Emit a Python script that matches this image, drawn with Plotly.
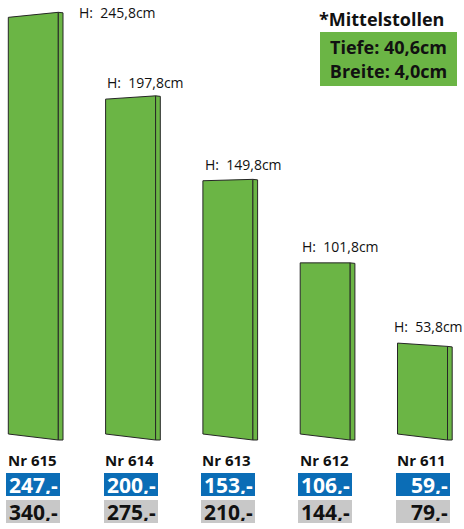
import plotly.graph_objects as go

# ---- data ----
models = ["Nr 615", "Nr 614", "Nr 613", "Nr 612", "Nr 611"]
heights_cm = [245.8, 197.8, 149.8, 101.8, 53.8]
height_labels = ["245,8", "197,8", "149,8", "101,8", "53,8"]
price_blue = ["247,-", "200,-", "153,-", "106,-", "59,-"]
price_grey = ["340,-", "275,-", "210,-", "144,-", "79,-"]
info_title = "*Mittelstollen"
info_lines = ["Tiefe: 40,6cm", "Breite: 4,0cm"]

# ---- styling / geometry constants ----
GREEN = "#6bb545"
BLUE = "#0b6db6"
GREY = "#c8c8c8"
EDGE = "#262626"
FONT = "Open Sans"
PX_X = 97.3           # pixels per category step
PX_Y = 1.74           # pixels per cm
FRONT_W = 50 / PX_X   # front face width (category units)
SIDE_W = 4.7 / PX_X   # side strip width
BOTTOM_TILT = 6 / PX_Y
TOP_TILT = [2.9, 1.9, 0.8, 0.0, -1.9]   # perspective tilt of top edge (cm)
LABEL_XSHIFT = [19, 0, 1, 1, -5]        # pixel nudges of the height labels

fig = go.Figure()

for i, h in enumerate(heights_cm):
    xl = i - FRONT_W / 2
    xr = i + FRONT_W / 2
    t = TOP_TILT[i]
    fig.add_trace(go.Scatter(
        x=[xl, xr, xr, xl, xl],
        y=[BOTTOM_TILT, 0, h, h - t, BOTTOM_TILT],
        fill="toself", fillcolor=GREEN, mode="lines",
        line=dict(color=EDGE, width=1), hoverinfo="skip", showlegend=False))
    fig.add_trace(go.Scatter(
        x=[xr, xr + SIDE_W, xr + SIDE_W, xr, xr],
        y=[0, 0, h - 0.3, h, 0],
        fill="toself", fillcolor=GREEN, mode="lines",
        line=dict(color=EDGE, width=1), hoverinfo="skip", showlegend=False))

annotations = []
for i, h in enumerate(heights_cm):
    txt = "H:  " + height_labels[i] + "cm"
    if i == 0:
        annotations.append(dict(
            x=i + FRONT_W / 2, y=h, xref="x", yref="y", text=txt,
            xanchor="left", yanchor="middle", xshift=LABEL_XSHIFT[i], showarrow=False,
            font=dict(family=FONT, size=14, color="#111")))
    else:
        annotations.append(dict(
            x=i - FRONT_W / 2, y=h - TOP_TILT[i], xref="x", yref="y", text=txt,
            xanchor="left", yanchor="middle", yshift=16.5, xshift=LABEL_XSHIFT[i] - 1,
            showarrow=False, font=dict(family=FONT, size=14, color="#111")))
    annotations.append(dict(
        x=i, y=1 - 460 / 529, xref="x", yref="paper", text="<b>" + models[i] + "</b>",
        xanchor="center", yanchor="middle", showarrow=False, xshift=-1,
        font=dict(family=FONT, size=15, color="#111")))
    annotations.append(dict(
        x=i, y=1 - 484.5 / 529, xref="x", yref="paper", text="<b>" + price_blue[i] + "</b>",
        xanchor="center", yanchor="middle", showarrow=False,
        width=50, height=19, borderpad=2, borderwidth=0, align="right", valign="middle",
        bgcolor=BLUE, font=dict(family=FONT, size=21, color="white")))
    annotations.append(dict(
        x=i, y=1 - 511.5 / 529, xref="x", yref="paper", text="<b>" + price_grey[i] + "</b>",
        xanchor="center", yanchor="middle", showarrow=False,
        width=50, height=19, borderpad=2, borderwidth=0, align="right", valign="middle",
        bgcolor=GREY, font=dict(family=FONT, size=21, color="#111")))

annotations.append(dict(
    x=381.5 / 464, y=1 - 19 / 529, xref="paper", yref="paper", text="<b>" + info_title + "</b>",
    xanchor="center", yanchor="middle", showarrow=False,
    font=dict(family=FONT, size=18, color="#111")))
annotations.append(dict(
    x=388.5 / 464, y=1 - 59 / 529, xref="paper", yref="paper",
    text="<b>" + "<br>".join(info_lines) + "</b>",
    xanchor="center", yanchor="middle", showarrow=False,
    width=133, height=50, borderpad=2, borderwidth=0, align="center", valign="middle",
    bgcolor=GREEN, font=dict(family=FONT, size=18, color="#111")))

fig.update_layout(
    width=464, height=529,
    margin=dict(l=0, r=0, t=0, b=0),
    paper_bgcolor="white", plot_bgcolor="white",
    xaxis=dict(range=[-33.3 / PX_X, (464 - 33.3) / PX_X], visible=False, fixedrange=True),
    yaxis=dict(range=[-89 / PX_Y, 440 / PX_Y], visible=False, fixedrange=True),
    annotations=annotations,
    showlegend=False,
)

fig.write_html(
    "out.html",
    config={"displayModeBar": False},
    post_script="document.body.style.margin='0';document.body.style.overflow='hidden';",
)
